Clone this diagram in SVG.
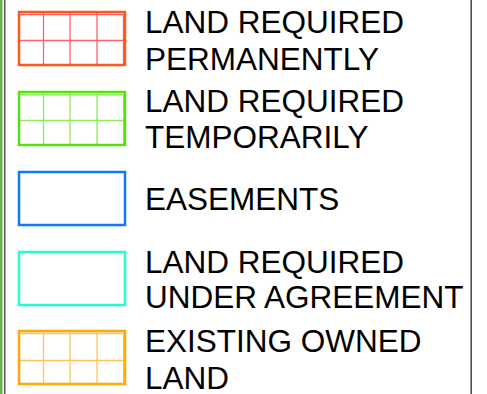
<svg xmlns="http://www.w3.org/2000/svg" width="487" height="394" viewBox="0 0 487 394">
<style>
text{font-family:"Liberation Sans",Arial,sans-serif;font-size:31.5px;fill:#000}
.box{fill:#fff;stroke-width:2.5}
.g{stroke-width:1.3;fill:none}
</style>
<rect width="487" height="394" fill="#fff"/>
<rect x="0" y="0" width="2.5" height="394" fill="#6ab04c"/>
<line x1="4.8" y1="0" x2="4.8" y2="394" stroke="#555" stroke-width="1.5"/>
<line x1="471.2" y1="0" x2="471.2" y2="394" stroke="#444" stroke-width="1.5"/>
<g id="perm">
<rect class="box" x="19" y="12" width="106" height="53" stroke="#ff5a1a"/>
<g class="g" stroke="#ff3030" stroke-opacity="0.75">
<path d="M20 14.5H123.5V64M20 40.5H124M43.5 12V65M70 12V65M97 12V65"/>
</g>
<text x="145" y="33">LAND REQUIRED</text>
<text x="145" y="70">PERMANENTLY</text>
</g>
<g id="temp">
<rect class="box" x="19" y="92" width="106" height="53" stroke="#55e010"/>
<g class="g" stroke="#66e622" stroke-opacity="0.75">
<path d="M20 94.5H123.5V144M20 120.5H124M43.5 92V145M70 92V145M97 92V145"/>
</g>
<text x="145" y="112">LAND REQUIRED</text>
<text x="145" y="148">TEMPORARILY</text>
</g>
<g id="ease">
<rect class="box" x="19" y="172" width="106" height="53" stroke="#1177ff"/>
<text x="145" y="210">EASEMENTS</text>
</g>
<g id="agree">
<rect class="box" x="19" y="252" width="106" height="53" stroke="#22ffcc"/>
<text x="145" y="273">LAND REQUIRED</text>
<text x="145" y="308">UNDER AGREEMENT</text>
</g>
<g id="owned">
<rect class="box" x="19" y="331" width="106" height="53" stroke="#ffaa00"/>
<g class="g" stroke="#ffb020" stroke-opacity="0.75">
<path d="M20 333.5H123.5V383M20 360.5H124M43.5 331V384M70 331V384M97 331V384"/>
</g>
<text x="145" y="352">EXISTING OWNED</text>
<text x="145" y="388.5">LAND</text>
</g>
<g id="connectors"/>
</svg>
